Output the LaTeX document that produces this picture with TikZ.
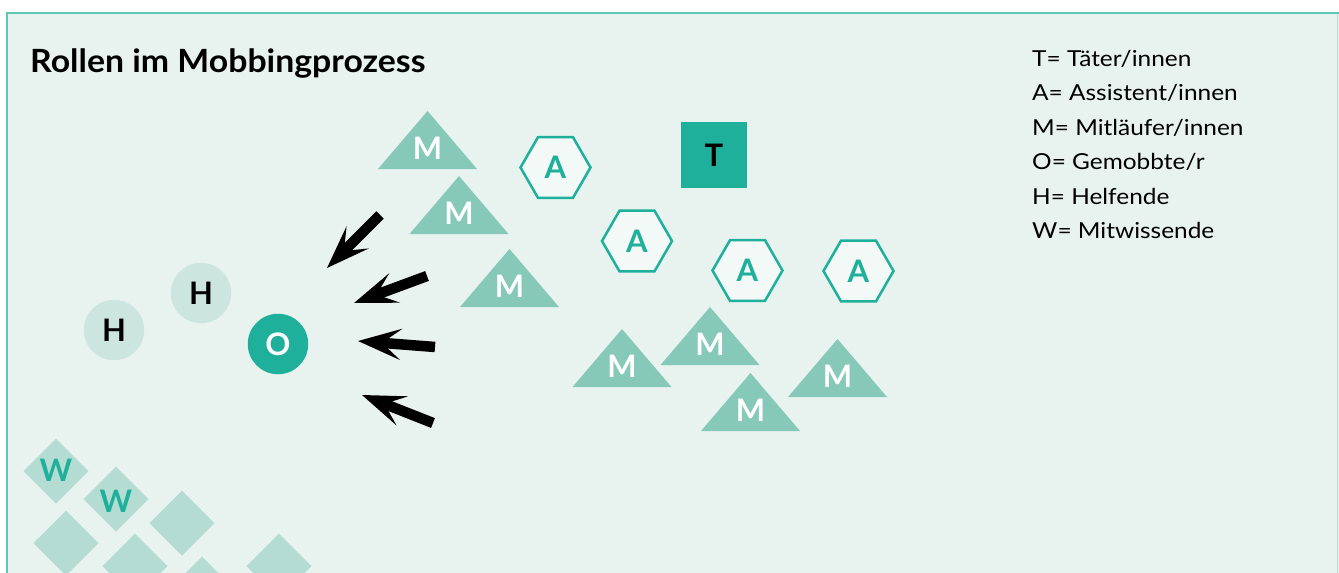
\documentclass[tikz,border=0pt]{standalone}
\usepackage{fontspec}
\setmainfont{Lato}
\newfontfamily\titlefont[FakeStretch=1.056]{Lato}
\newfontfamily\legendfont[FakeStretch=1.11]{Lato}
\usetikzlibrary{arrows.meta}
\definecolor{panelbg}{HTML}{E8F3EF}
\definecolor{panelline}{HTML}{5EC6B4}
\definecolor{panelline2}{HTML}{B4E0D6}
\definecolor{teal}{HTML}{1FB09C}
\definecolor{trifill}{HTML}{86C9B9}
\definecolor{hexfill}{HTML}{F2F9F7}
\definecolor{hfill}{HTML}{CCE6DF}
\definecolor{dfill}{HTML}{B5DCD2}
\tikzset{
  lettr/.style={inner sep=0pt, font=\bfseries\fontsize{31}{31}\selectfont, text height=22.3pt, text depth=0pt},
  mtext/.style={lettr, text=white},
  atext/.style={lettr, text=teal},
  wtext/.style={lettr, text=teal},
  legend/.style={anchor=base west, inner sep=0pt, font=\legendfont\fontsize{22}{22}\selectfont, text=black},
  hexline/.style={draw=teal, fill=hexfill, line width=2.5pt, line join=miter},
  pointer/.style={line width=10.5pt, -{Stealth[length=43pt, width=31pt, inset=19pt]}},
}
\newcommand\mtri[3]{%
  \fill[trifill] (#1-49.5,#2) -- (#1,#2-58) -- (#1+49.5,#2) -- cycle;
  \node[mtext] (#3) at (#1,#2-20.5) {M};}
\newcommand\ahex[3]{%
  \node[atext] (#3) at (#1,#2) {A};
  \draw[hexline] (#3.center) ++(35,0) -- ++(120:35) -- ++(180:35) -- ++(240:35) -- ++(300:35) -- ++(0:35) -- cycle;
  \node[atext] at (#3.center) {A};}
\newcommand\wdia[2]{%
  \fill[dfill] (#1,#2-32.5) -- (#1+32.5,#2) -- (#1,#2+32.5) -- (#1-32.5,#2) -- cycle;}
\begin{document}
\begin{tikzpicture}[x=1pt,y=-1pt]
\useasboundingbox (0,0) rectangle (1339,573);
\begin{scope}
\clip (0,0) rectangle (1339,573);
\fill[panelbg] (6,12) rectangle (1339,580);
\draw[panelline2, line width=1pt] (1337.5,13) -- (1337.5,580);
\draw[panelline, line width=2pt] (7,580) -- (7,13) -- (1339,13);
% W diamonds
\wdia{56}{471}
\wdia{116}{499}
\wdia{182}{523}
\wdia{66}{543}
\wdia{135}{566}
\wdia{202}{589}
\wdia{279}{566}
\node[wtext] (w1) at (56,470.5) {W};
\node[wtext] (w2) at (116,501.5) {W};
\end{scope}

% title
\node[anchor=base west, inner sep=0pt, font=\titlefont\bfseries\fontsize{32}{32}\selectfont] (title) at (30,72) {Rollen im Mobbingprozess};

% legend
\node[legend] (l1) at (1032,66) {T= Täter/innen};
\node[legend] (l2) at (1032,100.5) {A= Assistent/innen};
\node[legend] (l3) at (1032,135) {M= Mitläufer/innen};
\node[legend] (l4) at (1032,169.5) {O= Gemobbte/r};
\node[legend] (l5) at (1032,204) {H= Helfende};
\node[legend] (l6) at (1032,238.5) {W= Mitwissende};

% triangles M
\mtri{427.5}{169}{m1}
\mtri{459}{234}{m2}
\mtri{509.5}{307}{m3}
\mtri{622}{387}{m4}
\mtri{710}{365}{m5}
\mtri{750.5}{431}{m6}
\mtri{837.5}{397}{m7}

% hexagons A
\ahex{555.5}{167.5}{a1}
\ahex{637}{241}{a2}
\ahex{747.5}{270.5}{a3}
\ahex{858.5}{271}{a4}

% T square
\node[lettr, fill=teal, minimum size=66pt, text=black] (t) at (714,155) {T};

% H circles and O
\node[lettr, circle, fill=hfill, minimum size=60.5pt, text=black] (h1) at (114,330) {H};
\node[lettr, circle, fill=hfill, minimum size=60.5pt, text=black] (h2) at (201,293) {H};
\node[lettr, circle, fill=teal, minimum size=60.5pt, text=white] (o) at (278,344) {O};

% arrows
\coordinate (p1s) at (380,215); \coordinate (p1e) at (327,268);
\coordinate (p2s) at (427,276); \coordinate (p2e) at (354,303);
\coordinate (p3s) at (435,347); \coordinate (p3e) at (358,341);
\coordinate (p4s) at (433,423); \coordinate (p4e) at (362,395);
\draw[pointer] (p1s) -- (p1e);
\draw[pointer] (p2s) -- (p2e);
\draw[pointer] (p3s) -- (p3e);
\draw[pointer] (p4s) -- (p4e);
\end{tikzpicture}
\end{document}
